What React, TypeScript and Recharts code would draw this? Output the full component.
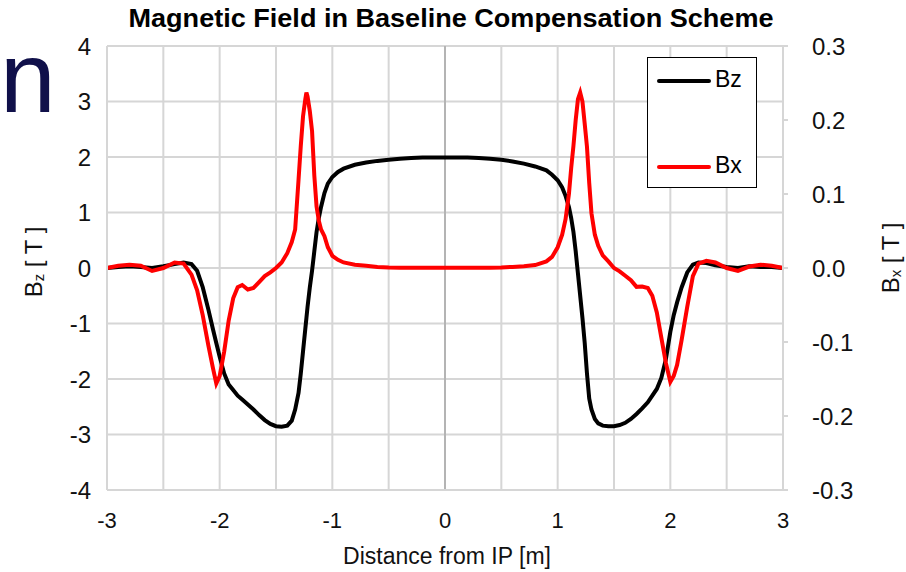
import { LineChart, Line, XAxis, YAxis, CartesianGrid, ReferenceLine, Legend } from "recharts";

// distance from IP [m]
const xs = [
  -3, -2.9, -2.8, -2.7, -2.6, -2.5, -2.4, -2.32, -2.25, -2.2, -2.15, -2.1, -2.06, -2.03, -2.0,
  -1.96, -1.92, -1.88, -1.84, -1.8, -1.75, -1.7, -1.65, -1.6, -1.55, -1.5, -1.45, -1.4, -1.36,
  -1.33, -1.3, -1.28, -1.26, -1.24, -1.23, -1.22, -1.2, -1.18, -1.16, -1.14, -1.12, -1.1, -1.07,
  -1.04, -1.0, -0.95, -0.9, -0.8, -0.7, -0.6, -0.5, -0.4, -0.3, -0.2, -0.1, 0,
  0.1, 0.2, 0.3, 0.4, 0.5, 0.6, 0.7, 0.8, 0.9, 0.95, 1.0, 1.04, 1.07, 1.1, 1.12, 1.14, 1.16,
  1.18, 1.2, 1.22, 1.24, 1.26, 1.28, 1.3, 1.33, 1.36, 1.4, 1.45, 1.5, 1.55, 1.6, 1.65, 1.7,
  1.75, 1.8, 1.84, 1.88, 1.92, 1.96, 2.0, 2.03, 2.06, 2.1, 2.15, 2.2, 2.25, 2.32, 2.4, 2.5,
  2.6, 2.7, 2.8, 2.9, 3.0,
];

// Bz [T], left axis
const bzValues = [
  0.0, 0.02, 0.03, 0.02, 0.0, 0.03, 0.07, 0.1, 0.07, -0.05, -0.35, -0.75, -1.1, -1.35, -1.6,
  -1.9, -2.1, -2.2, -2.3, -2.37, -2.46, -2.55, -2.65, -2.74, -2.81, -2.85, -2.86, -2.84, -2.75,
  -2.55, -2.25, -1.9, -1.5, -1.1, -0.9, -0.7, -0.35, -0.05, 0.3, 0.65, 0.9, 1.1, 1.35,
  1.52, 1.64, 1.73, 1.79, 1.86, 1.9, 1.93, 1.95, 1.97, 1.98, 1.99, 1.99, 1.99,
  1.99, 1.99, 1.98, 1.97, 1.95, 1.92, 1.88, 1.83, 1.76, 1.68, 1.58, 1.45, 1.3, 1.1, 0.9, 0.65, 0.3,
  -0.1, -0.5, -0.9, -1.35, -1.9, -2.35, -2.55, -2.72, -2.8, -2.84, -2.85, -2.85, -2.83, -2.79, -2.72, -2.63,
  -2.53, -2.42, -2.3, -2.18, -1.98, -1.65, -1.15, -0.85, -0.62, -0.35, -0.08, 0.06, 0.1, 0.09, 0.05, 0.02,
  0.0, 0.03, 0.02, 0.02, 0.0,
];

// Bx [T], right axis
const bxValues = [
  0, 0.003, 0.0045, 0.003, -0.004, 0.0, 0.0075, 0.006, -0.009, -0.03, -0.064, -0.105, -0.135, -0.156, -0.146,
  -0.113, -0.071, -0.041, -0.026, -0.023, -0.029, -0.027, -0.019, -0.011, -0.006, 0.0, 0.0075, 0.02, 0.035,
  0.052, 0.119, 0.165, 0.205, 0.228, 0.237, 0.232, 0.212, 0.185, 0.125, 0.083, 0.064, 0.052, 0.043,
  0.028, 0.0165, 0.011, 0.0075, 0.0045, 0.003, 0.0015, 0.0008, 0.0005, 0.0003, 0.0003, 0.0003, 0.0003,
  0.0003, 0.0003, 0.0003, 0.0005, 0.0008, 0.0015, 0.0025, 0.004, 0.009, 0.015, 0.028, 0.045, 0.066, 0.1, 0.135, 0.165, 0.2,
  0.228, 0.237, 0.225, 0.195, 0.164, 0.115, 0.074, 0.045, 0.03, 0.017, 0.009, 0.0, -0.0045, -0.0105, -0.0165, -0.0255,
  -0.025, -0.027, -0.0375, -0.06, -0.094, -0.128, -0.154, -0.146, -0.131, -0.0975, -0.0525, -0.011, 0.006, 0.0098, 0.0075, 0.0,
  -0.004, 0.002, 0.0045, 0.003, 0.0,
];

const xTicks = [-3, -2.5, -2, -1.5, -1, -0.5, 0, 0.5, 1, 1.5, 2, 2.5, 3];
const bzTicks = [-4, -3, -2, -1, 0, 1, 2, 3, 4];
const bxTicks = [-0.3, -0.2, -0.1, 0, 0.1, 0.2, 0.3];

const data = xs.map((x, i) => ({ x, bz: bzValues[i], bx: bxValues[i] }));

const FONT = "'Liberation Sans', Arial, Helvetica, sans-serif";
const GRID = "#d6d6d6";

const XTick = ({ x, y, payload }: any) =>
  Number.isInteger(payload.value) ? (
    <text x={x} y={y + 28} textAnchor="middle" dominantBaseline="central" fontSize={22} fontFamily={FONT} fill="#111">
      {payload.value}
    </text>
  ) : null;

const LeftTick = ({ x, y, payload }: any) => (
  <text x={x - 14} y={y} textAnchor="end" dominantBaseline="central" fontSize={24} fontFamily={FONT} fill="#111">
    {payload.value}
  </text>
);

const RightTick = ({ x, y, payload }: any) => (
  <text x={x + 22} y={y} textAnchor="start" dominantBaseline="central" fontSize={24} fontFamily={FONT} fill="#111">
    {payload.value.toFixed(1)}
  </text>
);

const axisLabel = (cx: number, cy: number, sub: string) => (
  <text transform={`translate(${cx},${cy}) rotate(-90)`} textAnchor="middle" dominantBaseline="central" fontSize={24} fontFamily={FONT} fill="#111">
    B<tspan fontSize={15} dy={5}>{sub}</tspan>
    <tspan dy={-5}> [ T ]</tspan>
  </text>
);

const LegendBox = () => (
  <div style={{ width: 108, height: 129, border: "1.5px solid #000", background: "#fff", fontFamily: "'Liberation Sans Narrow', " + FONT, fontSize: 23, position: "relative" }}>
    <div style={{ position: "absolute", left: 9, top: 21, width: 54, height: 4, background: "#000", borderRadius: 2 }} />
    <span style={{ position: "absolute", left: 67, top: 8 }}>Bz</span>
    <div style={{ position: "absolute", left: 9, top: 107, width: 54, height: 4, background: "#ff0000", borderRadius: 2 }} />
    <span style={{ position: "absolute", left: 67, top: 94 }}>Bx</span>
  </div>
);

export default function App() {
  return (
    <div style={{ position: "absolute", left: 0, top: 0, width: 906, height: 572, background: "#fff", overflow: "hidden" }}>
      <svg width={906} height={572} style={{ position: "absolute", left: 0, top: 0 }}>
        <text x={0} y={112} fontSize={100} fontFamily={FONT} fill="#10104a">n</text>
        <text x={451} y={27} textAnchor="middle" fontSize={25} fontWeight="bold" fontFamily={FONT} fill="#000" textLength={645} lengthAdjust="spacingAndGlyphs">
          Magnetic Field in Baseline Compensation Scheme
        </text>
      </svg>
      <div style={{ position: "absolute", left: 0, top: 0 }}>
        <LineChart width={906} height={572} data={data} margin={{ top: 46, right: 0, bottom: 0, left: 0 }}>
          <CartesianGrid yAxisId="left" stroke={GRID} strokeWidth={2} />
          <XAxis
            dataKey="x"
            type="number"
            domain={[-3, 3]}
            ticks={xTicks}
            interval={0}
            height={82}
            tick={<XTick />}
            tickLine={false}
            tickSize={0}
            axisLine={{ stroke: GRID, strokeWidth: 2 }}
            label={{ content: () => (
              <text x={447} y={556} textAnchor="middle" dominantBaseline="central" fontSize={23} fontFamily={FONT} fill="#111">
                Distance from IP [m]
              </text>
            ) }}
          />
          <YAxis
            yAxisId="left"
            domain={[-4, 4]}
            ticks={bzTicks}
            width={107}
            tick={<LeftTick />}
            tickLine={false}
            tickSize={0}
            axisLine={{ stroke: GRID, strokeWidth: 2 }}
            label={{ content: () => axisLabel(33, 262, "z") }}
          />
          <YAxis
            yAxisId="right"
            orientation="right"
            domain={[-0.3, 0.3]}
            ticks={bxTicks}
            width={123}
            tick={<RightTick />}
            tickSize={5}
            tickLine={{ stroke: GRID, strokeWidth: 2 }}
            axisLine={{ stroke: GRID, strokeWidth: 2 }}
            label={{ content: () => axisLabel(890, 258, "x") }}
          />
          <ReferenceLine yAxisId="left" x={0} stroke="#a8a8a8" strokeWidth={1.5} />
          <Legend
            layout="vertical"
            align="center"
            verticalAlign="middle"
            content={<LegendBox />}
            wrapperStyle={{ position: "absolute", left: 647, top: 57, width: 111, height: 132 }}
          />
          <Line yAxisId="left" dataKey="bz" name="Bz" type="linear" stroke="#000" strokeWidth={4} dot={false} isAnimationActive={false} />
          <Line yAxisId="right" dataKey="bx" name="Bx" type="linear" stroke="#ff0000" strokeWidth={4} dot={false} isAnimationActive={false} />
        </LineChart>
      </div>
    </div>
  );
}
